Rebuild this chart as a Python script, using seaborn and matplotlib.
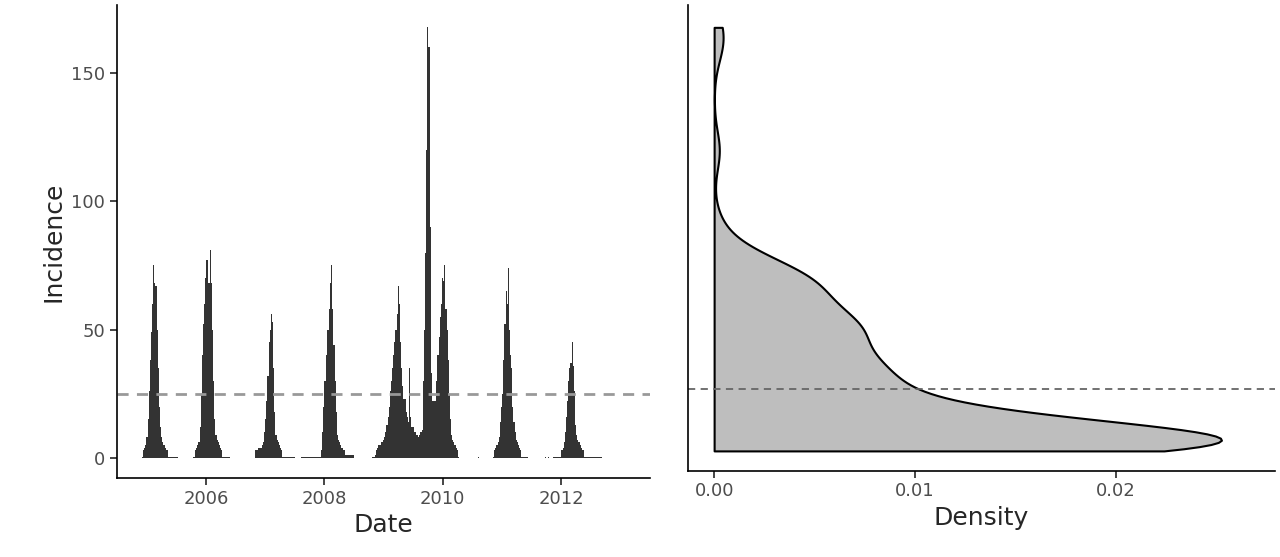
import numpy as np
import pandas as pd
import matplotlib
matplotlib.use('Agg')
import matplotlib.pyplot as plt
import seaborn as sns

# weekly incidence per season (start as decimal year)
s1_start = 2004.92
s1 = [0.5, 3, 4, 5, 8, 15, 26, 38, 49, 60, 75, 68, 67, 50, 35, 20, 12, 8, 6, 5, 4, 3, 3, 0.5, 0.5, 0.5, 0.5, 0.5, 0.5, 0.5, 0.5, 0.5]
s2_start = 2005.78
s2 = [0.5, 0.5, 3, 4, 5, 6, 12, 25, 40, 52, 60, 70, 77, 68, 68, 81, 68, 50, 30, 15, 9, 7, 6, 5, 4, 3, 0.5, 0.5, 0.5, 0.5, 0.5, 0.5, 0.5]
s3_start = 2006.83
s3 = [3, 3, 3, 4, 4, 4, 5, 6, 10, 15, 22, 32, 45, 50, 56, 53, 35, 18, 9, 7, 6, 5, 4, 3, 0.5, 0.5, 0.5, 0.5, 0.5, 0.5, 0.5, 0.5, 0.5, 0.5, 0.5]
s4_start = 2007.6
s4 = [0.5] * 18 + [3, 10, 20, 30, 40, 50, 50, 58, 68, 75, 58, 44, 30, 18, 9, 7, 6, 5, 4, 3, 3, 1, 1, 1, 1, 1, 1, 1, 1]
s5_start = 2008.8
s5 = [0.5, 0.5, 0.5, 1, 3, 4, 5, 5, 6, 6, 7, 8, 10, 13, 16, 20, 26, 30, 35, 40, 45, 50, 56, 67, 60, 45, 35, 28,
      23, 23, 18, 16, 14, 35, 16, 12, 12, 10, 10, 9, 9, 8, 9, 10, 11, 30, 50, 80, 120, 168, 160, 90, 33, 22, 22,
      22, 22, 30, 40, 47, 55, 60, 70, 69, 75, 58, 50, 38, 25, 15, 9, 7, 6, 5, 4, 3, 0.5]
s6_start = 2010.85
s6 = [0.5, 3, 4, 5, 6, 8, 14, 20, 25, 38, 52, 65, 60, 74, 50, 40, 35, 20, 14, 10, 7, 6, 5, 4, 3, 0.5, 0.5, 0.5, 0.5, 0.5, 0.5]
s7_start = 2011.87
s7 = [0.5, 0.5, 0.5, 0.5, 0.5, 0.5, 0.5, 3, 4, 6, 10, 16, 22, 30, 35, 37, 45, 36, 26, 13, 9, 7, 6, 5, 4, 3, 3,
      0.5, 0.5, 0.5, 0.5, 0.5, 0.5, 0.5, 0.5, 0.5, 0.5, 0.5, 0.5, 0.5, 0.5, 0.5, 0.5]
dot_years = [2010.6, 2011.72, 2011.77]
dot_values = [0.5, 0.5, 0.5]

threshold_left = 25
threshold_right = 27

wk = 1 / 52.18
rows = []
for start, vals in [(s1_start, s1), (s2_start, s2), (s3_start, s3), (s4_start, s4),
                    (s5_start, s5), (s6_start, s6), (s7_start, s7)]:
    for i, v in enumerate(vals):
        rows.append((start + i * wk, v))
for y, v in zip(dot_years, dot_values):
    rows.append((y, v))
df = pd.DataFrame(rows, columns=['Date', 'Incidence'])

sns.set_theme(style='ticks')
plt.rcParams['font.family'] = ['DejaVu Sans']
fig = plt.figure(figsize=(12.8, 5.57), dpi=100)
ax1 = fig.add_axes([0.0914, 0.142, 0.4164, 0.849])
ax2 = fig.add_axes([0.5375, 0.155, 0.4585, 0.836])

ax1.bar(df['Date'], df['Incidence'], width=wk, color='#333333', linewidth=0, align='edge')
ax1.axhline(threshold_left, color='#999999', ls=(0, (4, 3)), lw=2)
ax1.set_xlim(2004.5, 2013.5)
ax1.set_ylim(-7.8, 176.5)
ax1.set_xticks([2006, 2008, 2010, 2012])
ax1.set_xticklabels(['2006', '2008', '2010', '2012'])
ax1.set_yticks([0, 50, 100, 150])
ax1.set_xlabel('Date', fontsize=18)
ax1.set_ylabel('Incidence', fontsize=18)

vals = df['Incidence'][df['Incidence'] >= 3]
sns.kdeplot(y=vals, ax=ax2, fill=True, cut=0, bw_adjust=0.8, facecolor='#bebebe',
            edgecolor='black', linewidth=1.5, alpha=1)
ax2.axhline(threshold_right, color='#666666', ls=(0, (4, 3)), lw=1.3)
ax2.set_xlim(-0.0013, 0.0279)
ax2.set_ylim(-4.7, 176.7)
ax2.set_xticks([0.0, 0.01, 0.02])
ax2.set_xticklabels(['0.00', '0.01', '0.02'])
ax2.set_yticks([])
ax2.set_ylabel('')
ax2.set_xlabel('Density', fontsize=18)

for ax in (ax1, ax2):
    sns.despine(ax=ax)
    ax.tick_params(labelsize=13, labelcolor='#4d4d4d', length=5, width=1.2)
    for s in ('left', 'bottom'):
        ax.spines[s].set_linewidth(1.2)
        ax.spines[s].set_color('black')

fig.savefig('out.png')
